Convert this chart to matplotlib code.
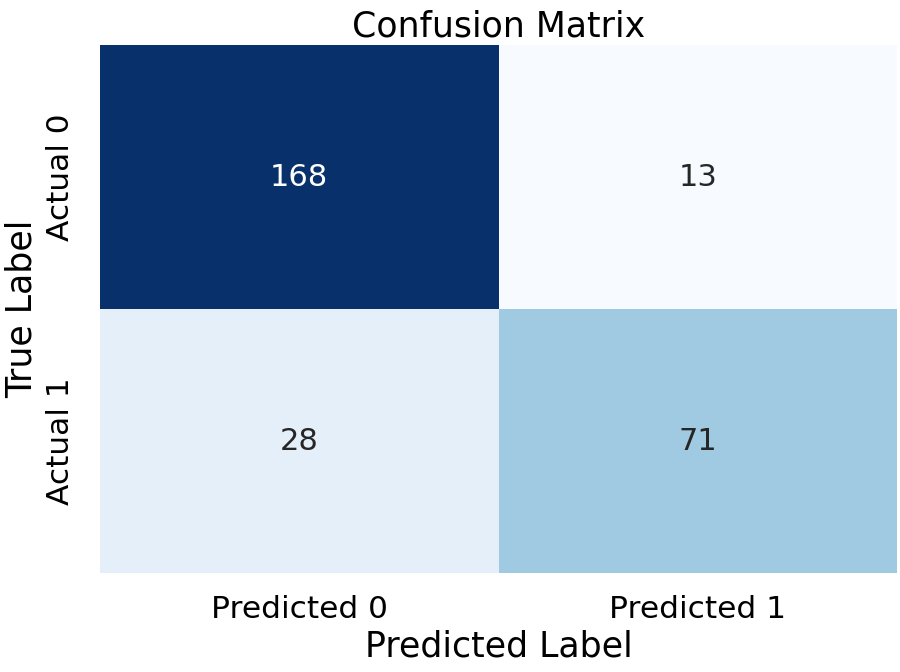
import matplotlib
matplotlib.use("Agg")
import matplotlib.pyplot as plt
import seaborn as sns
import numpy as np

row_labels = ["Actual 0", "Actual 1"]
col_labels = ["Predicted 0", "Predicted 1"]
row0 = [168, 13]
row1 = [28, 71]
cm = np.array([row0, row1])

fig = plt.figure(figsize=(9, 6.72), dpi=100)
ax = fig.add_axes([0.111, 0.147, 0.886, 0.786])
sns.heatmap(cm, annot=True, fmt="d", cmap="Blues", cbar=False, ax=ax,
            xticklabels=col_labels, yticklabels=row_labels,
            annot_kws={"fontsize": 22})
ax.set_title("Confusion Matrix", fontsize=25, pad=6)
ax.set_xlabel("Predicted Label", fontsize=25)
ax.set_ylabel("True Label", fontsize=25)
ax.tick_params(axis="x", labelsize=22.5, length=0, pad=16)
ax.tick_params(axis="y", labelsize=22.5, length=0, pad=18)
plt.setp(ax.get_yticklabels(), rotation=90, va="center")
ax.xaxis.labelpad = 4
ax.yaxis.labelpad = 5
fig.savefig("out.png", dpi=100)
